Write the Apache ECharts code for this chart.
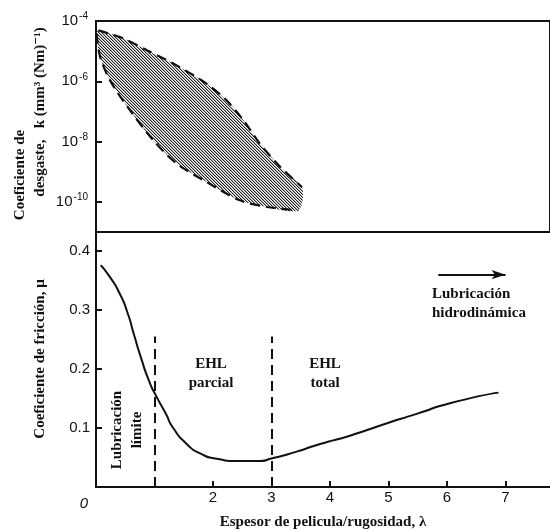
<!DOCTYPE html>
<html>
<head>
<meta charset="utf-8">
<script src="https://cdn.jsdelivr.net/npm/echarts@6/dist/echarts.min.js"></script>
<style>
  html, body { margin: 0; padding: 0; background: #fff; }
  #chart { width: 550px; height: 531px; }
</style>
</head>
<body>
<div id="chart"></div>
<script>
// wear coefficient band (top panel), y values are log10(k)
const wearUpperX = [0.04, 0.47, 0.87, 1.32, 1.89, 2.23, 2.52, 2.80, 3.15, 3.52]
const wearUpperLog = [-4.31, -4.58, -4.97, -5.41, -6.08, -6.63, -7.29, -8.07, -8.84, -9.51]
const wearLowerX = [0.01, 0.07, 0.24, 0.58, 0.98, 1.38, 1.89, 2.46, 2.92, 3.46]
const wearLowerLog = [-4.42, -5.19, -5.97, -6.96, -7.96, -8.73, -9.34, -9.95, -10.17, -10.28]
const wearTicks = [-10, -8, -6]
const wearLabels = [-10, -8, -6, -4]

// friction coefficient (bottom panel)
const lambda = [0.08, 0.23, 0.40, 0.54, 0.65, 0.77, 0.91, 1.03, 1.19, 1.32, 1.55, 1.78, 2.06, 2.41, 2.75, 3.03, 3.43, 3.83, 4.34, 4.91, 5.48, 6.05, 6.88]
const friction = [0.376, 0.357, 0.329, 0.295, 0.258, 0.219, 0.179, 0.154, 0.125, 0.100, 0.073, 0.057, 0.048, 0.044, 0.044, 0.049, 0.060, 0.073, 0.087, 0.106, 0.124, 0.142, 0.160]
const frictionTicks = [0.1, 0.2, 0.3, 0.4]
const lambdaLabels = [0, 2, 3, 4, 5, 6, 7]
const lambdaTicks = [2, 3, 4, 5, 6, 7]
const regimeBounds = [1, 3]
const boundTop = 0.255
const arrowFrom = [5.85, 0.36]
const arrowTo = [7.0, 0.36]

const serif = '"Liberation Serif", "DejaVu Serif", serif'
const sans = '"Liberation Sans", Arial, sans-serif'
const ink = '#111'

// diagonal hatching like the scanned figure
function hatch() {
  const c = document.createElement('canvas')
  c.width = 3
  c.height = 3
  const g = c.getContext('2d')
  for (let i = 0; i < 3; i++) {
    g.fillStyle = '#222'
    g.fillRect(i, i, 1, 1)
    g.fillStyle = '#aaa'
    g.fillRect((i + 1) % 3, i, 1, 1)
  }
  return c
}

const zip = (xs, ys) => xs.map((x, i) => [x, ys[i]])

const chart = echarts.init(document.getElementById('chart'))

chart.setOption({
  animation: false,
  grid: [
    { left: 96, right: -4, top: 21, bottom: 299, show: true, borderColor: ink, borderWidth: 2 },
    { left: 96, right: -4, top: 231, bottom: 43 },
  ],
  xAxis: [
    { gridIndex: 0, type: 'value', min: 0, max: 7.76, show: false },
    {
      gridIndex: 1,
      type: 'value',
      min: 0,
      max: 7.76,
      interval: 1,
      splitLine: { show: false },
      axisLine: { lineStyle: { color: ink, width: 2 } },
      axisTick: { inside: true, length: 6, lineStyle: { color: ink, width: 2 }, customValues: lambdaTicks },
      axisLabel: {
        customValues: lambdaLabels,
        color: ink,
        fontFamily: sans,
        fontSize: 15,
        margin: 3,
        formatter: v => (v === 0 ? '{z|0}' : String(v)),
        rich: { z: { fontStyle: 'italic', fontFamily: sans, fontSize: 15, color: ink, padding: [6, 24, 0, 0] } },
      },
      name: 'Espesor de pelicula/rugosidad, λ',
      nameLocation: 'middle',
      nameGap: 28,
      nameTextStyle: { fontFamily: serif, fontWeight: 'bold', fontSize: 15, color: ink },
    },
  ],
  yAxis: [
    {
      gridIndex: 0,
      type: 'value',
      min: -11,
      max: -4,
      splitLine: { show: false },
      axisLine: { lineStyle: { color: ink, width: 2 } },
      axisTick: { inside: true, length: 6, lineStyle: { color: ink, width: 2 }, customValues: wearTicks },
      axisLabel: {
        customValues: wearLabels,
        margin: 8,
        formatter: v => '{b|10}{s|' + v + '}',
        rich: {
          b: { fontFamily: sans, fontSize: 15, color: ink },
          s: { fontFamily: sans, fontSize: 10, color: ink, verticalAlign: 'top', padding: [0, 0, 9, 1] },
        },
      },
    },
    {
      gridIndex: 1,
      type: 'value',
      min: 0,
      max: 0.434,
      splitLine: { show: false },
      axisLine: { lineStyle: { color: ink, width: 2 } },
      axisTick: { inside: true, length: 6, lineStyle: { color: ink, width: 2 }, customValues: frictionTicks },
      axisLabel: { customValues: frictionTicks, color: ink, fontFamily: sans, fontSize: 15, margin: 6 },
      name: 'Coeficiente de fricción, μ',
      nameLocation: 'middle',
      nameGap: 48,
      nameTextStyle: { fontFamily: serif, fontWeight: 'bold', fontSize: 15, color: ink },
    },
  ],
  series: [
    {
      type: 'custom',
      xAxisIndex: 0,
      yAxisIndex: 0,
      data: [[0, -6]],
      silent: true,
      renderItem: (params, api) => {
        const pts = zip(wearUpperX, wearUpperLog)
          .concat(zip(wearLowerX, wearLowerLog).reverse())
          .map(p => api.coord(p))
        return {
          type: 'polygon',
          shape: { points: pts, smooth: 0.3 },
          style: { fill: { image: hatch(), repeat: 'repeat' }, stroke: null },
        }
      },
      z: 1,
    },
    {
      type: 'line',
      xAxisIndex: 0,
      yAxisIndex: 0,
      data: zip(wearUpperX, wearUpperLog),
      smooth: 0.3,
      showSymbol: false,
      lineStyle: { color: ink, width: 2.2, type: [10, 6] },
      z: 3,
    },
    {
      type: 'line',
      xAxisIndex: 0,
      yAxisIndex: 0,
      data: zip(wearLowerX, wearLowerLog),
      smooth: 0.3,
      showSymbol: false,
      lineStyle: { color: ink, width: 2.2, type: [10, 6] },
      z: 3,
    },
    {
      type: 'line',
      xAxisIndex: 1,
      yAxisIndex: 1,
      data: zip(lambda, friction),
      smooth: 0.7,
      showSymbol: false,
      lineStyle: { color: ink, width: 2 },
      markLine: {
        silent: true,
        symbol: 'none',
        label: { show: false },
        lineStyle: { color: ink, width: 2, type: [10, 6] },
        data: regimeBounds.map(b => [{ coord: [b, 0] }, { coord: [b, boundTop] }]).concat([
          [
            { coord: arrowFrom, symbol: 'none', lineStyle: { type: 'solid', width: 2 } },
            { coord: arrowTo, symbol: 'arrow', symbolSize: [7, 14] },
          ],
        ]),
      },
    },
  ],
  graphic: [
    { type: 'text', x: 20, y: 175, rotation: Math.PI / 2, style: { text: 'Coeficiente de', font: 'bold 15px ' + serif, fill: ink, align: 'center', verticalAlign: 'middle' } },
    { type: 'text', x: 40, y: 112, rotation: Math.PI / 2, style: { text: 'desgaste,   k (mm³ (Nm)⁻¹)', font: 'bold 15px ' + serif, fill: ink, align: 'center', verticalAlign: 'middle' } },
    { type: 'text', x: 127, y: 430, rotation: Math.PI / 2, style: { text: 'Lubricación\nlímite', font: 'bold 15px ' + serif, fill: ink, align: 'center', verticalAlign: 'middle', lineHeight: 20 } },
    { type: 'text', x: 211, y: 374, style: { text: 'EHL\nparcial', font: 'bold 15px ' + serif, fill: ink, align: 'center', verticalAlign: 'middle', lineHeight: 19 } },
    { type: 'text', x: 325, y: 374, style: { text: 'EHL\ntotal', font: 'bold 15px ' + serif, fill: ink, align: 'center', verticalAlign: 'middle', lineHeight: 19 } },
    { type: 'text', x: 432, y: 304, style: { text: 'Lubricación\nhidrodinámica', font: 'bold 15px ' + serif, fill: ink, align: 'left', verticalAlign: 'middle', lineHeight: 19 } },
  ],
})
</script>
</body>
</html>
